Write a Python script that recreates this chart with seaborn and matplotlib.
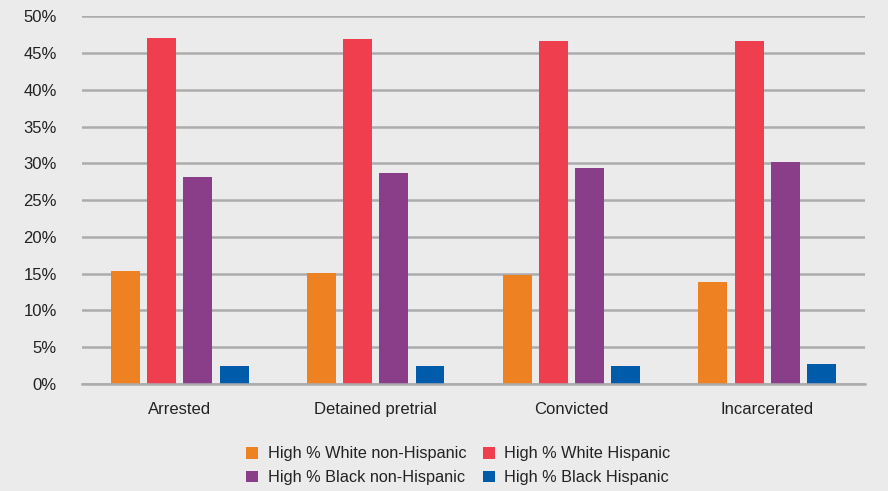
import seaborn as sns
import matplotlib.pyplot as plt
import pandas as pd
from matplotlib.ticker import FuncFormatter

stages = ["Arrested", "Detained pretrial", "Convicted", "Incarcerated"]
groups = [
    "High % White non-Hispanic",
    "High % White Hispanic",
    "High % Black non-Hispanic",
    "High % Black Hispanic",
]
white_non_hisp = [15.3, 15.1, 14.8, 13.9]
white_hisp = [47.1, 46.9, 46.6, 46.6]
black_non_hisp = [28.1, 28.7, 29.3, 30.2]
black_hisp = [2.4, 2.4, 2.4, 2.7]
colors = ["#ee8122", "#ef3f4f", "#8a3e8a", "#005bab"]

rows = []
for g, vals in zip(groups, [white_non_hisp, white_hisp, black_non_hisp, black_hisp]):
    for s, v in zip(stages, vals):
        rows.append({"stage": s, "group": g, "value": v})
df = pd.DataFrame(rows)

sns.set_style("white")
plt.rcParams["font.family"] = ["Liberation Sans Narrow", "Liberation Sans", "DejaVu Sans"]

fig = plt.figure(figsize=(8.88, 4.91), dpi=100, facecolor="#ebebeb")
ax = fig.add_axes([0.0923, 0.218, 0.882, 0.749])
ax.set_facecolor("#ebebeb")

sns.barplot(
    data=df, x="stage", y="value", hue="group", hue_order=groups,
    palette=colors, width=0.74, gap=0.2, saturation=1, linewidth=0,
    ax=ax, legend=True,
)

ax.set_ylim(0, 50)
ax.set_yticks(range(0, 51, 5))
ax.yaxis.set_major_formatter(FuncFormatter(lambda v, _: f"{v:.0f}%"))
ax.yaxis.grid(True, color="#acacae", linewidth=1.8)
ax.set_axisbelow(True)
for side in ["left", "right", "top"]:
    ax.spines[side].set_visible(False)
ax.spines["bottom"].set_color("#acacae")
ax.spines["bottom"].set_linewidth(1.8)
ax.tick_params(axis="both", length=0, labelsize=12, colors="#222222")
ax.tick_params(axis="y", pad=18)
ax.tick_params(axis="x", pad=13)
ax.set_xlabel("")
ax.set_ylabel("")

handles, labels = ax.get_legend_handles_labels()
ax.get_legend().remove()
order = [0, 2, 1, 3]
fig.legend(
    [handles[i] for i in order], [labels[i] for i in order],
    loc="lower center", bbox_to_anchor=(0.516, -0.018),
    ncol=2, frameon=False, fontsize=11.7, handlelength=0.75, handleheight=0.75,
    handletextpad=0.6, columnspacing=1.0, labelspacing=0.55,
    labelcolor="#222222",
)

fig.savefig("out.png", dpi=100, facecolor=fig.get_facecolor())
